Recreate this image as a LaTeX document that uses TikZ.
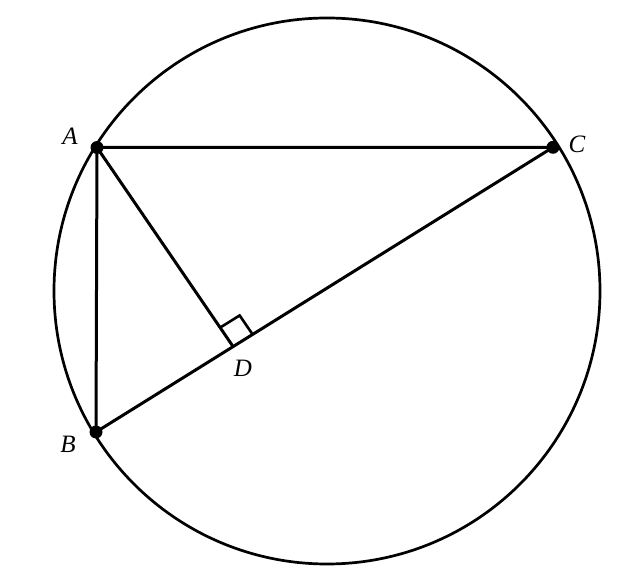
\documentclass[tikz,border=0pt]{standalone}
\usepackage{fontspec}
\setmainfont{Liberation Serif}
\usetikzlibrary{calc}
\begin{document}
\begin{tikzpicture}[x=1pt,y=-1pt,
  edge/.style={line width=3pt, line cap=round, line join=round},
  pt/.style={circle, fill=black, inner sep=0pt, minimum size=13pt},
  lab/.style={font=\fontsize{25}{25}\selectfont\itshape, inner sep=0pt}]
\useasboundingbox (0,0) rectangle (640,585);
\coordinate (O) at (327,291);
\coordinate (A) at (97,147.5);
\coordinate (B) at (96,432);
\coordinate (C) at (553,147.3);
\coordinate (D) at ($(B)!0.3!(C)$);
\draw[line width=2.7pt] (O) circle (273);
\draw[edge] (A) -- (C) -- (B) -- cycle;
\draw[edge] (A) -- (D);
% right angle mark
\coordinate (P1) at ($(D)!23pt!(C)$);
\coordinate (P2) at ($(D)!23pt!(A)$);
\coordinate (P3) at ($(P1)+(P2)-(D)$);
\draw[line width=2.6pt] (P1) -- (P3) -- (P2);
\node[pt] (nA) at (A) {};
\node[pt] (nB) at (B) {};
\node[pt] (nC) at (C) {};
\node[lab] (lA) at (70,136) {A};
\node[lab] (lB) at (68,444) {B};
\node[lab] (lC) at (577,144) {C};
\node[lab] (lD) at (243,368) {D};
\end{tikzpicture}
\end{document}
